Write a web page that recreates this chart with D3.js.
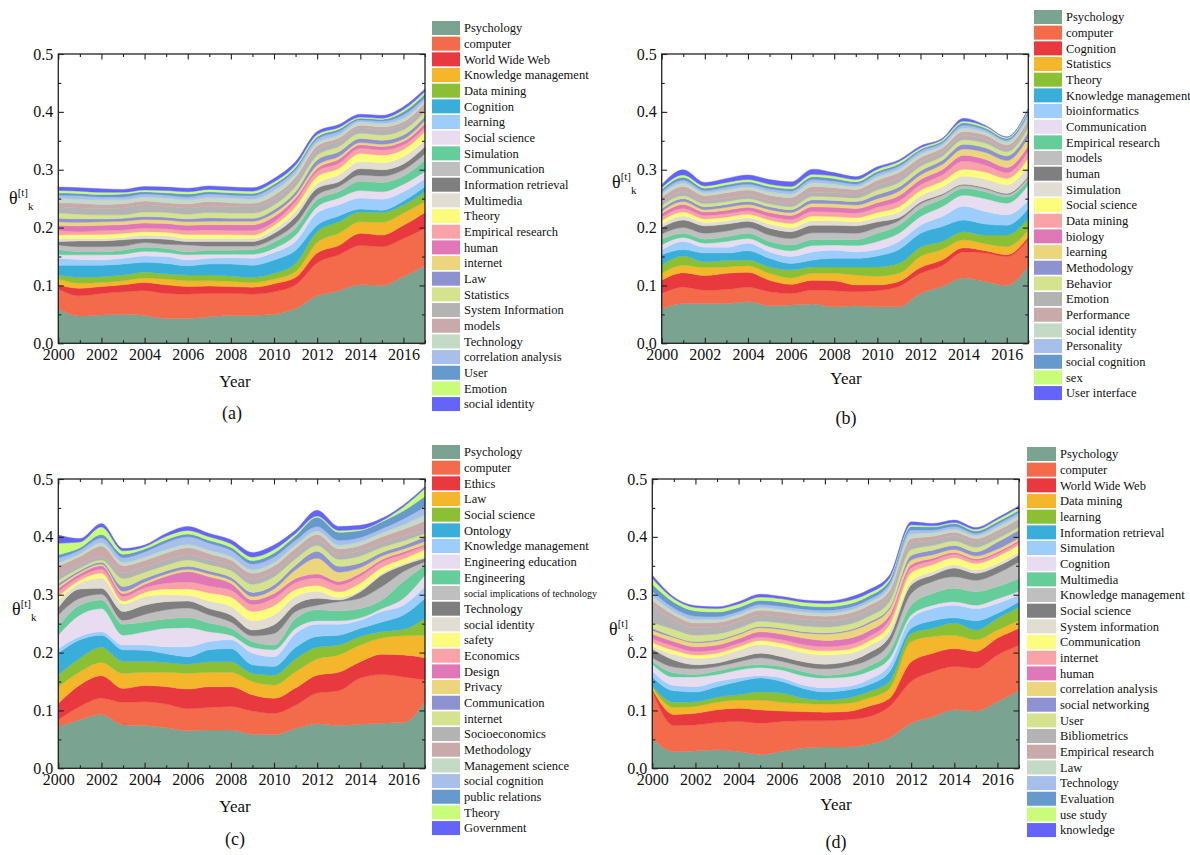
<!DOCTYPE html>
<html>
<head>
<meta charset="utf-8">
<script src="https://cdn.jsdelivr.net/npm/d3@7"></script>
<style>
  html, body { margin: 0; padding: 0; background: #fff; }
  svg { display: block; }
  text { font-family: "Liberation Serif", "Times New Roman", serif; fill: #111; }
</style>
</head>
<body>
<svg id="chart" width="1190" height="855"></svg>
<script>
// ---- shared categories and ticks ----
const years = [2000, 2001, 2002, 2003, 2004, 2005, 2006, 2007, 2008, 2009, 2010, 2011, 2012, 2013, 2014, 2015, 2016, 2017];
const yearTicks = [2000, 2002, 2004, 2006, 2008, 2010, 2012, 2014, 2016];
const yearMinorTicks = [2001, 2003, 2005, 2007, 2009, 2011, 2013, 2015, 2017];
const thetaTicks = [0.0, 0.1, 0.2, 0.3, 0.4, 0.5];
const thetaMinorTicks = [0.05, 0.15, 0.25, 0.35, 0.45];

const palette = [
  "#7aa391", "#f36b4a", "#e8393f", "#f4b72b", "#8bbf34", "#3aaedb", "#9ccdfb", "#e8dcf0",
  "#64cd99", "#bfbfbf", "#7f7f7f", "#e2ddd2", "#fdfd7d", "#f9a3a8", "#e078b8", "#ebd67e",
  "#8e92d0", "#d5e28e", "#b3b3b3", "#c8aaaa", "#c4d9c6", "#a9bfeb", "#6699cc", "#c8fc79", "#6464fb"
];

// ---- (a) ----
const namesA = ["Psychology", "computer", "World Wide Web", "Knowledge management", "Data mining", "Cognition",
  "learning", "Social science", "Simulation", "Communication", "Information retrieval", "Multimedia", "Theory",
  "Empirical research", "human", "internet", "Law", "Statistics", "System Information", "models", "Technology",
  "correlation analysis", "User", "Emotion", "social identity"];
const valuesA = [
  [0.060,0.047,0.049,0.050,0.048,0.043,0.043,0.046,0.048,0.048,0.050,0.060,0.082,0.091,0.101,0.100,0.115,0.134],
  [0.034,0.035,0.037,0.039,0.043,0.043,0.042,0.040,0.038,0.037,0.039,0.041,0.057,0.062,0.068,0.067,0.066,0.065],
  [0.007,0.013,0.012,0.012,0.014,0.015,0.013,0.013,0.012,0.012,0.014,0.013,0.017,0.016,0.021,0.020,0.023,0.027],
  [0.010,0.009,0.007,0.007,0.008,0.010,0.010,0.009,0.009,0.008,0.008,0.010,0.018,0.021,0.020,0.022,0.021,0.019],
  [0.007,0.010,0.010,0.010,0.010,0.009,0.010,0.010,0.009,0.009,0.010,0.014,0.019,0.020,0.017,0.017,0.014,0.017],
  [0.017,0.021,0.020,0.019,0.017,0.018,0.016,0.019,0.021,0.021,0.023,0.023,0.011,0.010,0.005,0.004,0.007,0.009],
  [0.012,0.010,0.009,0.010,0.011,0.012,0.010,0.010,0.011,0.012,0.013,0.015,0.021,0.019,0.019,0.019,0.016,0.014],
  [0.006,0.008,0.009,0.007,0.008,0.007,0.009,0.007,0.006,0.007,0.007,0.011,0.011,0.012,0.013,0.013,0.013,0.012],
  [0.009,0.005,0.005,0.007,0.007,0.007,0.005,0.007,0.007,0.008,0.011,0.012,0.012,0.011,0.016,0.016,0.014,0.020],
  [0.008,0.009,0.009,0.007,0.008,0.007,0.012,0.007,0.007,0.006,0.006,0.008,0.008,0.009,0.011,0.011,0.011,0.011],
  [0.006,0.010,0.010,0.011,0.007,0.009,0.006,0.008,0.008,0.008,0.009,0.012,0.012,0.008,0.011,0.011,0.010,0.012],
  [0.005,0.004,0.004,0.004,0.006,0.006,0.005,0.005,0.005,0.005,0.007,0.009,0.008,0.012,0.012,0.012,0.013,0.011],
  [0.006,0.007,0.007,0.007,0.006,0.006,0.007,0.007,0.007,0.006,0.007,0.008,0.012,0.011,0.014,0.013,0.012,0.015],
  [0.008,0.005,0.007,0.006,0.006,0.006,0.007,0.008,0.007,0.008,0.006,0.009,0.009,0.009,0.009,0.009,0.008,0.007],
  [0.009,0.010,0.009,0.009,0.009,0.009,0.009,0.009,0.010,0.010,0.009,0.006,0.005,0.007,0.006,0.006,0.006,0.007],
  [0.006,0.006,0.006,0.006,0.006,0.006,0.006,0.006,0.006,0.006,0.006,0.005,0.006,0.005,0.004,0.004,0.004,0.005],
  [0.006,0.006,0.005,0.005,0.005,0.005,0.005,0.006,0.005,0.005,0.006,0.006,0.009,0.008,0.007,0.007,0.007,0.007],
  [0.009,0.008,0.007,0.006,0.008,0.008,0.008,0.009,0.009,0.009,0.008,0.009,0.008,0.009,0.009,0.009,0.009,0.008],
  [0.011,0.011,0.011,0.012,0.012,0.011,0.011,0.011,0.011,0.011,0.010,0.009,0.009,0.009,0.009,0.009,0.009,0.009],
  [0.007,0.008,0.007,0.007,0.007,0.006,0.007,0.008,0.007,0.006,0.007,0.007,0.007,0.006,0.005,0.005,0.005,0.006],
  [0.008,0.007,0.008,0.007,0.007,0.008,0.007,0.007,0.008,0.007,0.008,0.007,0.006,0.005,0.006,0.006,0.006,0.005],
  [0.005,0.006,0.005,0.005,0.005,0.005,0.005,0.006,0.005,0.006,0.007,0.006,0.006,0.006,0.003,0.004,0.006,0.005],
  [0.004,0.004,0.004,0.005,0.004,0.004,0.005,0.004,0.004,0.004,0.004,0.004,0.004,0.004,0.003,0.003,0.005,0.006],
  [0.004,0.004,0.004,0.003,0.003,0.004,0.004,0.004,0.004,0.004,0.004,0.004,0.004,0.003,0.002,0.002,0.004,0.004],
  [0.006,0.006,0.006,0.005,0.006,0.006,0.006,0.006,0.006,0.006,0.006,0.006,0.005,0.005,0.005,0.005,0.005,0.005]
];

// ---- (b) ----
const namesB = ["Psychology", "computer", "Cognition", "Statistics", "Theory", "Knowledge management",
  "bioinformatics", "Communication", "Empirical research", "models", "human", "Simulation", "Social science",
  "Data mining", "biology", "learning", "Methodology", "Behavior", "Emotion", "Performance", "social identity",
  "Personality", "social cognition", "sex", "User interface"];
const valuesB = [
  [0.060,0.069,0.069,0.069,0.072,0.065,0.066,0.068,0.063,0.065,0.063,0.063,0.086,0.098,0.113,0.107,0.100,0.134],
  [0.026,0.028,0.023,0.024,0.025,0.024,0.020,0.024,0.028,0.024,0.028,0.035,0.035,0.036,0.045,0.049,0.050,0.045],
  [0.023,0.025,0.025,0.028,0.026,0.020,0.016,0.017,0.017,0.012,0.010,0.009,0.010,0.010,0.007,0.004,0.003,0.005],
  [0.012,0.013,0.014,0.011,0.011,0.012,0.011,0.012,0.013,0.017,0.015,0.014,0.019,0.018,0.014,0.012,0.014,0.012],
  [0.014,0.016,0.010,0.011,0.010,0.011,0.014,0.011,0.011,0.014,0.016,0.017,0.016,0.014,0.014,0.015,0.020,0.020],
  [0.018,0.011,0.015,0.013,0.016,0.015,0.011,0.012,0.015,0.015,0.019,0.024,0.024,0.026,0.020,0.019,0.017,0.017],
  [0.008,0.014,0.010,0.010,0.013,0.011,0.012,0.014,0.014,0.011,0.011,0.014,0.014,0.017,0.024,0.022,0.018,0.014],
  [0.009,0.007,0.007,0.010,0.008,0.009,0.010,0.011,0.009,0.011,0.014,0.014,0.015,0.017,0.019,0.022,0.020,0.027],
  [0.010,0.007,0.007,0.008,0.009,0.009,0.010,0.010,0.009,0.010,0.014,0.014,0.014,0.013,0.012,0.012,0.011,0.008],
  [0.009,0.010,0.010,0.010,0.010,0.011,0.011,0.012,0.012,0.011,0.010,0.008,0.008,0.007,0.005,0.005,0.004,0.005],
  [0.011,0.013,0.013,0.012,0.011,0.012,0.012,0.013,0.013,0.013,0.010,0.005,0.003,0.002,0.002,0.002,0.002,0.002],
  [0.006,0.007,0.006,0.006,0.006,0.007,0.007,0.008,0.008,0.007,0.008,0.010,0.011,0.012,0.014,0.015,0.015,0.018],
  [0.006,0.007,0.006,0.006,0.006,0.007,0.007,0.008,0.007,0.007,0.008,0.009,0.009,0.010,0.012,0.012,0.011,0.013],
  [0.006,0.006,0.006,0.006,0.006,0.006,0.007,0.008,0.008,0.008,0.009,0.010,0.010,0.011,0.014,0.012,0.010,0.012],
  [0.006,0.007,0.006,0.006,0.006,0.007,0.007,0.008,0.008,0.008,0.008,0.009,0.009,0.009,0.010,0.010,0.009,0.010],
  [0.004,0.005,0.004,0.005,0.005,0.005,0.005,0.006,0.006,0.006,0.007,0.008,0.008,0.009,0.011,0.012,0.012,0.014],
  [0.005,0.005,0.005,0.005,0.005,0.005,0.005,0.006,0.006,0.006,0.007,0.007,0.007,0.007,0.008,0.008,0.008,0.009],
  [0.005,0.005,0.005,0.005,0.005,0.005,0.005,0.006,0.006,0.006,0.008,0.008,0.008,0.007,0.008,0.008,0.007,0.008],
  [0.006,0.007,0.006,0.006,0.006,0.006,0.007,0.007,0.007,0.007,0.008,0.008,0.007,0.007,0.007,0.007,0.006,0.007],
  [0.008,0.009,0.008,0.009,0.009,0.009,0.009,0.010,0.009,0.008,0.009,0.009,0.008,0.007,0.007,0.007,0.006,0.007],
  [0.006,0.006,0.005,0.005,0.005,0.006,0.006,0.007,0.006,0.005,0.006,0.006,0.006,0.005,0.006,0.005,0.005,0.005],
  [0.004,0.005,0.004,0.005,0.005,0.005,0.005,0.005,0.005,0.004,0.005,0.005,0.005,0.004,0.005,0.004,0.003,0.005],
  [0.004,0.005,0.004,0.004,0.004,0.004,0.004,0.005,0.005,0.004,0.004,0.004,0.003,0.003,0.004,0.003,0.003,0.004],
  [0.003,0.004,0.004,0.004,0.004,0.004,0.004,0.004,0.004,0.004,0.004,0.004,0.003,0.003,0.003,0.003,0.002,0.003],
  [0.005,0.009,0.006,0.007,0.008,0.008,0.008,0.009,0.006,0.005,0.004,0.003,0.003,0.002,0.005,0.002,0.001,0.002]
];

// ---- (c) ----
const namesC = ["Psychology", "computer", "Ethics", "Law", "Social science", "Ontology", "Knowledge management",
  "Engineering education", "Engineering", "social implications of technology", "Technology", "social identity",
  "safety", "Economics", "Design", "Privacy", "Communication", "internet", "Socioeconomics", "Methodology",
  "Management science", "social cognition", "public relations", "Theory", "Government"];
const valuesC = [
  [0.072,0.084,0.093,0.075,0.074,0.070,0.065,0.066,0.066,0.059,0.058,0.069,0.077,0.074,0.076,0.078,0.079,0.115],
  [0.012,0.023,0.028,0.039,0.041,0.041,0.038,0.039,0.041,0.040,0.037,0.040,0.053,0.060,0.080,0.084,0.079,0.038],
  [0.028,0.037,0.039,0.024,0.028,0.030,0.034,0.036,0.034,0.028,0.026,0.030,0.031,0.032,0.028,0.035,0.038,0.038],
  [0.029,0.023,0.023,0.026,0.023,0.025,0.027,0.025,0.025,0.023,0.023,0.028,0.028,0.030,0.029,0.028,0.033,0.039],
  [0.020,0.023,0.026,0.021,0.019,0.017,0.016,0.018,0.018,0.014,0.017,0.022,0.020,0.017,0.015,0.011,0.011,0.029],
  [0.038,0.032,0.021,0.020,0.019,0.015,0.013,0.021,0.023,0.015,0.015,0.020,0.019,0.017,0.014,0.017,0.025,0.035],
  [0.008,0.006,0.006,0.008,0.009,0.012,0.017,0.014,0.015,0.020,0.017,0.024,0.021,0.019,0.014,0.018,0.017,0.020],
  [0.023,0.037,0.040,0.017,0.023,0.032,0.033,0.017,0.008,0.010,0.012,0.009,0.006,0.006,0.004,0.005,0.012,0.020],
  [0.015,0.017,0.015,0.019,0.017,0.016,0.017,0.015,0.012,0.010,0.008,0.017,0.019,0.017,0.016,0.015,0.029,0.017],
  [0.020,0.012,0.010,0.007,0.013,0.016,0.017,0.014,0.011,0.010,0.020,0.012,0.008,0.016,0.018,0.023,0.017,0.006],
  [0.013,0.016,0.010,0.015,0.016,0.014,0.012,0.011,0.012,0.010,0.015,0.012,0.012,0.003,0.011,0.020,0.011,0.006],
  [0.012,0.010,0.018,0.013,0.015,0.012,0.010,0.013,0.015,0.016,0.017,0.014,0.012,0.004,0.003,0.003,0.003,0.003],
  [0.007,0.005,0.008,0.005,0.007,0.010,0.011,0.014,0.016,0.016,0.016,0.012,0.010,0.010,0.012,0.010,0.008,0.012],
  [0.008,0.006,0.007,0.008,0.008,0.010,0.012,0.012,0.012,0.012,0.013,0.012,0.013,0.012,0.012,0.010,0.008,0.006],
  [0.006,0.005,0.006,0.005,0.006,0.012,0.018,0.016,0.012,0.008,0.008,0.007,0.007,0.006,0.005,0.004,0.004,0.003],
  [0.004,0.003,0.003,0.004,0.004,0.004,0.004,0.005,0.005,0.006,0.008,0.015,0.027,0.016,0.010,0.006,0.005,0.005],
  [0.004,0.003,0.003,0.008,0.006,0.005,0.005,0.005,0.005,0.007,0.007,0.008,0.012,0.010,0.008,0.006,0.006,0.008],
  [0.006,0.004,0.004,0.014,0.011,0.010,0.011,0.011,0.012,0.014,0.014,0.011,0.010,0.012,0.012,0.009,0.008,0.006],
  [0.008,0.006,0.006,0.010,0.009,0.009,0.009,0.008,0.008,0.009,0.009,0.009,0.010,0.009,0.009,0.008,0.008,0.006],
  [0.016,0.014,0.018,0.012,0.011,0.012,0.012,0.011,0.010,0.010,0.010,0.009,0.009,0.009,0.009,0.010,0.012,0.016],
  [0.006,0.005,0.006,0.006,0.006,0.006,0.006,0.006,0.006,0.006,0.006,0.006,0.006,0.007,0.007,0.007,0.008,0.010],
  [0.008,0.006,0.008,0.008,0.009,0.012,0.013,0.012,0.011,0.010,0.009,0.008,0.008,0.008,0.007,0.007,0.010,0.014],
  [0.006,0.004,0.006,0.006,0.005,0.005,0.005,0.005,0.005,0.006,0.007,0.008,0.016,0.014,0.012,0.012,0.014,0.018],
  [0.020,0.010,0.013,0.006,0.004,0.006,0.006,0.006,0.006,0.006,0.006,0.004,0.002,0.003,0.002,0.002,0.007,0.014],
  [0.014,0.006,0.006,0.004,0.003,0.005,0.007,0.006,0.007,0.008,0.008,0.006,0.010,0.007,0.007,0.004,0.003,0.003]
];

// ---- (d) ----
const namesD = ["Psychology", "computer", "World Wide Web", "Data mining", "learning", "Information retrieval",
  "Simulation", "Cognition", "Multimedia", "Knowledge management", "Social science", "System information",
  "Communication", "internet", "human", "correlation analysis", "social networking", "User", "Bibliometrics",
  "Empirical research", "Law", "Technology", "Evaluation", "use study", "knowledge"];
const valuesD = [
  [0.052,0.029,0.030,0.032,0.029,0.024,0.029,0.035,0.037,0.037,0.041,0.053,0.078,0.089,0.101,0.099,0.115,0.135],
  [0.082,0.045,0.045,0.047,0.052,0.054,0.052,0.047,0.045,0.047,0.048,0.054,0.072,0.078,0.075,0.074,0.081,0.078],
  [0.003,0.019,0.020,0.022,0.023,0.023,0.018,0.016,0.015,0.014,0.018,0.014,0.034,0.032,0.031,0.029,0.029,0.029],
  [0.003,0.012,0.012,0.013,0.014,0.017,0.015,0.014,0.014,0.014,0.014,0.017,0.035,0.029,0.023,0.020,0.014,0.014],
  [0.003,0.009,0.008,0.009,0.009,0.014,0.016,0.009,0.007,0.009,0.011,0.012,0.014,0.014,0.021,0.017,0.020,0.023],
  [0.015,0.020,0.017,0.018,0.023,0.024,0.020,0.017,0.014,0.014,0.012,0.017,0.009,0.013,0.009,0.016,0.009,0.009],
  [0.010,0.009,0.009,0.009,0.006,0.004,0.006,0.006,0.007,0.006,0.009,0.012,0.017,0.021,0.022,0.021,0.017,0.012],
  [0.012,0.015,0.017,0.012,0.014,0.014,0.014,0.016,0.017,0.017,0.014,0.011,0.006,0.006,0.006,0.006,0.008,0.006],
  [0.005,0.007,0.004,0.006,0.006,0.005,0.006,0.007,0.005,0.006,0.009,0.012,0.017,0.020,0.023,0.023,0.021,0.022],
  [0.006,0.010,0.010,0.008,0.008,0.012,0.009,0.009,0.011,0.012,0.011,0.014,0.020,0.021,0.020,0.020,0.023,0.029],
  [0.015,0.012,0.007,0.006,0.007,0.008,0.008,0.008,0.008,0.008,0.012,0.012,0.015,0.011,0.015,0.012,0.012,0.012],
  [0.005,0.010,0.011,0.011,0.013,0.015,0.016,0.016,0.016,0.014,0.012,0.010,0.006,0.006,0.006,0.006,0.005,0.005],
  [0.006,0.007,0.006,0.006,0.006,0.007,0.007,0.007,0.007,0.007,0.008,0.010,0.015,0.012,0.012,0.011,0.012,0.012],
  [0.007,0.007,0.006,0.006,0.006,0.006,0.006,0.007,0.007,0.008,0.008,0.009,0.008,0.007,0.006,0.005,0.005,0.005],
  [0.008,0.008,0.008,0.008,0.008,0.009,0.010,0.011,0.011,0.011,0.010,0.008,0.006,0.004,0.003,0.003,0.003,0.003],
  [0.006,0.007,0.007,0.007,0.007,0.007,0.008,0.009,0.011,0.012,0.012,0.010,0.008,0.006,0.005,0.005,0.005,0.004],
  [0.004,0.002,0.002,0.002,0.002,0.002,0.002,0.002,0.002,0.002,0.003,0.003,0.008,0.008,0.007,0.007,0.012,0.014],
  [0.010,0.012,0.011,0.010,0.009,0.009,0.009,0.010,0.010,0.010,0.010,0.010,0.010,0.008,0.008,0.008,0.006,0.005],
  [0.030,0.016,0.013,0.012,0.011,0.011,0.011,0.011,0.011,0.011,0.011,0.011,0.011,0.009,0.009,0.009,0.008,0.008],
  [0.008,0.009,0.008,0.008,0.008,0.008,0.008,0.008,0.008,0.008,0.008,0.008,0.008,0.007,0.006,0.006,0.006,0.006],
  [0.008,0.006,0.006,0.005,0.005,0.005,0.005,0.005,0.005,0.005,0.005,0.006,0.008,0.006,0.005,0.005,0.006,0.006],
  [0.008,0.006,0.006,0.005,0.005,0.005,0.005,0.005,0.005,0.005,0.005,0.006,0.007,0.005,0.005,0.004,0.005,0.005],
  [0.012,0.010,0.009,0.008,0.007,0.007,0.007,0.006,0.006,0.006,0.006,0.006,0.006,0.005,0.005,0.004,0.004,0.004],
  [0.010,0.006,0.006,0.006,0.006,0.006,0.006,0.006,0.006,0.006,0.005,0.004,0.003,0.002,0.002,0.003,0.004,0.005],
  [0.006,0.003,0.003,0.003,0.004,0.005,0.004,0.004,0.004,0.005,0.006,0.005,0.005,0.004,0.004,0.003,0.003,0.003]
];

// ---- panel layout ----
const panels = [
  { names: namesA, values: valuesA, left: 58.3, right: 425, top: 54, bottom: 343.3,
    legendX: 432, legendY: 21, swatchW: 28, labelX: 9, labelY: 204,
    yearX: 235, yearY: 387, caption: "(a)", capX: 232, capY: 419 },
  { names: namesB, values: valuesB, left: 661.7, right: 1028.3, top: 54, bottom: 343.3,
    legendX: 1034, legendY: 10, swatchW: 28, labelX: 612, labelY: 188,
    yearX: 846, yearY: 384, caption: "(b)", capX: 846, capY: 424 },
  { names: namesC, values: valuesC, left: 58.3, right: 425, top: 479, bottom: 768.3,
    legendX: 432, legendY: 445, swatchW: 28, labelX: 12, labelY: 615,
    yearX: 235, yearY: 812, caption: "(c)", capX: 235, capY: 845 },
  { names: namesD, values: valuesD, left: 652.3, right: 1019, top: 479, bottom: 768.3,
    legendX: 1027, legendY: 447, swatchW: 29, labelX: 609, labelY: 635,
    yearX: 836, yearY: 810, caption: "(d)", capX: 836, capY: 848 }
];

const svg = d3.select("#chart");
const rowStep = 15.67;

function styleAxis(sel) {
  sel.select(".domain").remove();
  sel.selectAll(".tick line").attr("stroke", "#222").attr("stroke-width", 1.1);
  sel.selectAll(".tick text").style("font-family", '"Liberation Serif", "Times New Roman", serif')
    .style("font-size", "16px").attr("fill", "#111");
}

function drawPanel(p) {
  const g = svg.append("g");
  const x = d3.scaleLinear().domain([2000, 2017]).range([p.left, p.right]);
  const y = d3.scaleLinear().domain([0, 0.5]).range([p.bottom, p.top]);

  // one row per year, one column per topic
  const rows = years.map((yr, i) => {
    const r = { year: yr };
    p.values.forEach((v, k) => { r[k] = v[i]; });
    return r;
  });
  const layers = d3.stack().keys(d3.range(p.names.length))(rows);

  const area = d3.area()
    .x(d => x(d.data.year))
    .y0(d => y(d[0]))
    .y1(d => y(d[1]))
    .curve(d3.curveMonotoneX);

  g.append("g").selectAll("path")
    .data(layers)
    .join("path")
    .attr("d", area)
    .attr("fill", (d, i) => palette[i])
    .attr("stroke", (d, i) => palette[i])
    .attr("stroke-width", 0.4);

  // axes with inward ticks on all four sides
  const major = 5.5, minor = 3;
  g.append("g").attr("transform", `translate(0,${p.bottom})`)
    .call(d3.axisBottom(x).tickValues(yearTicks).tickFormat(d3.format("d")).tickSize(-major).tickPadding(5))
    .call(styleAxis);
  g.append("g").attr("transform", `translate(0,${p.bottom})`)
    .call(d3.axisBottom(x).tickValues(yearMinorTicks).tickFormat("").tickSize(-minor))
    .call(styleAxis);
  g.append("g").attr("transform", `translate(0,${p.top})`)
    .call(d3.axisTop(x).tickValues(yearTicks).tickFormat("").tickSize(-major))
    .call(styleAxis);
  g.append("g").attr("transform", `translate(0,${p.top})`)
    .call(d3.axisTop(x).tickValues(yearMinorTicks).tickFormat("").tickSize(-minor))
    .call(styleAxis);
  g.append("g").attr("transform", `translate(${p.left},0)`)
    .call(d3.axisLeft(y).tickValues(thetaTicks).tickFormat(d3.format(".1f")).tickSize(-major).tickPadding(5))
    .call(styleAxis);
  g.append("g").attr("transform", `translate(${p.left},0)`)
    .call(d3.axisLeft(y).tickValues(thetaMinorTicks).tickFormat("").tickSize(-minor))
    .call(styleAxis);
  g.append("g").attr("transform", `translate(${p.right},0)`)
    .call(d3.axisRight(y).tickValues(thetaTicks).tickFormat("").tickSize(-major))
    .call(styleAxis);
  g.append("g").attr("transform", `translate(${p.right},0)`)
    .call(d3.axisRight(y).tickValues(thetaMinorTicks).tickFormat("").tickSize(-minor))
    .call(styleAxis);

  g.append("rect")
    .attr("x", p.left).attr("y", p.top)
    .attr("width", p.right - p.left).attr("height", p.bottom - p.top)
    .attr("fill", "none").attr("stroke", "#222").attr("stroke-width", 1.3);

  // y axis title: theta with superscript [t] and subscript k
  const yt = g.append("text").attr("x", p.labelX).attr("y", p.labelY).style("font-size", "18px");
  yt.append("tspan").text("θ");
  yt.append("tspan").attr("dy", -8).style("font-size", "11px").text("[t]");
  yt.append("tspan").attr("dy", 14).style("font-size", "11px").text("k");

  g.append("text").attr("x", p.yearX).attr("y", p.yearY)
    .attr("text-anchor", "middle").style("font-size", "17px").text("Year");
  g.append("text").attr("x", p.capX).attr("y", p.capY)
    .attr("text-anchor", "middle").style("font-size", "18px").text(p.caption);

  // legend
  const lg = g.append("g");
  const items = lg.selectAll("g").data(p.names).join("g")
    .attr("transform", (d, i) => `translate(${p.legendX},${p.legendY + i * rowStep})`);
  items.append("rect")
    .attr("width", p.swatchW).attr("height", 14)
    .attr("fill", (d, i) => palette[i]);
  items.append("text")
    .attr("x", p.swatchW + 4).attr("y", 7).attr("dy", "0.35em")
    .style("font-size", d => d.length > 30 ? "10px" : "12.5px")
    .text(d => d);
}

panels.forEach(drawPanel);
</script>
</body>
</html>
